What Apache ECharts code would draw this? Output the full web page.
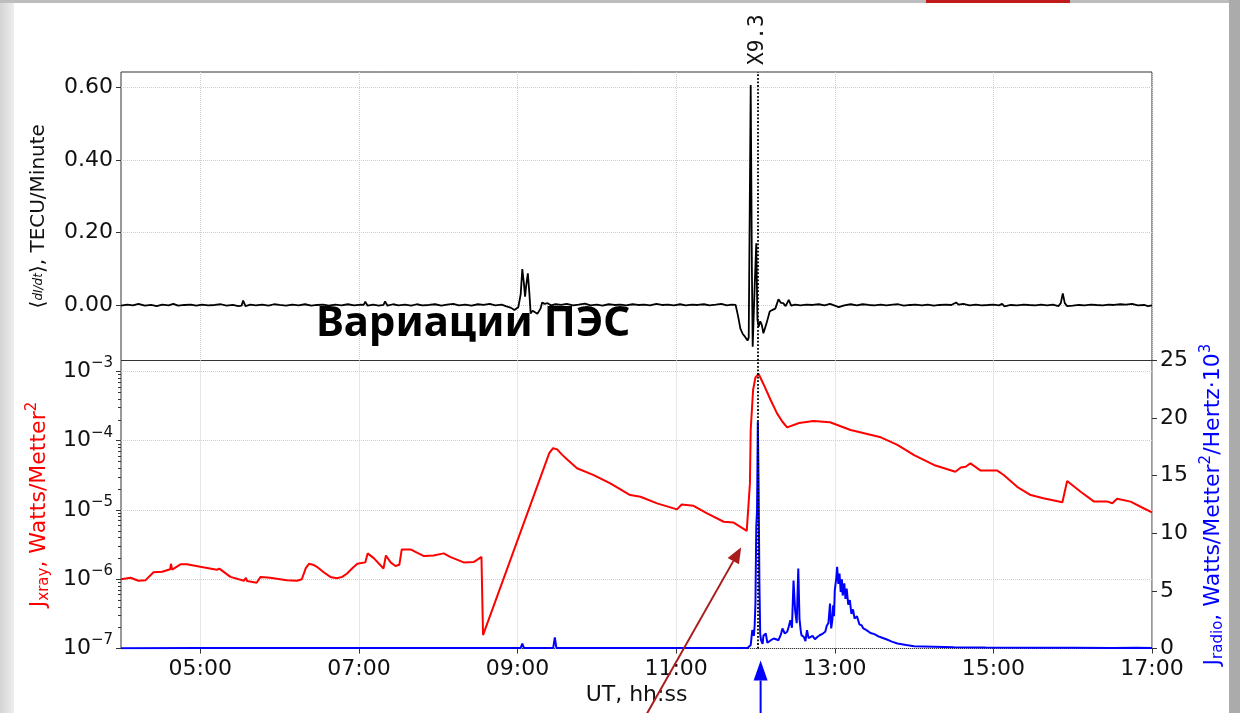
<!DOCTYPE html>
<html>
<head>
<meta charset="utf-8">
<script src="https://cdn.jsdelivr.net/npm/echarts@6.0.0/dist/echarts.min.js"></script>
<style>
  html, body { margin: 0; padding: 0; background: #fff; }
  #chart { width: 1240px; height: 713px; }
</style>
</head>
<body>
<div id="chart"></div>
<script>
// ---- axis ticks ----
const hourTicks = [5, 7, 9, 11, 13, 15, 17];
const tecuTicks = [0, 0.2, 0.4, 0.6];
const xrayTicks = [1e-7, 1e-6, 1e-5, 1e-4, 1e-3];
const xrayMinorTicks = [
  2e-7, 3e-7, 4e-7, 5e-7, 6e-7, 7e-7, 8e-7, 9e-7,
  2e-6, 3e-6, 4e-6, 5e-6, 6e-6, 7e-6, 8e-6, 9e-6,
  2e-5, 3e-5, 4e-5, 5e-5, 6e-5, 7e-5, 8e-5, 9e-5,
  2e-4, 3e-4, 4e-4, 5e-4, 6e-4, 7e-4, 8e-4, 9e-4
];

// ---- flare marker ----
const flareTime = 12.03;       // UT hours
const flareLabel = 'X9.3';
const captionText = 'Вариации ПЭС';

// ---- TEC variation rate, [UT hours, TECU/min] ----
const tecuRate = [
  [4.00,-0.002],[4.08,0.001],[4.15,-0.001],[4.22,0.003],[4.30,-0.002],[4.38,0.000],[4.45,-0.003],[4.52,0.001],
  [4.60,-0.001],[4.66,0.003],[4.72,-0.002],[4.80,0.000],[4.88,0.001],[4.95,-0.002],[5.02,0.001],[5.10,-0.001],
  [5.18,0.000],[5.26,0.002],[5.33,-0.002],[5.41,0.000],[5.48,-0.003],[5.52,-0.002],[5.54,0.012],[5.57,-0.003],
  [5.63,0.001],[5.70,-0.001],[5.78,0.001],[5.86,-0.002],[5.93,0.002],[6.00,0.000],[6.08,-0.002],[6.16,0.001],
  [6.24,-0.001],[6.32,0.002],[6.40,-0.002],[6.47,0.000],[6.55,0.001],[6.62,-0.002],[6.70,0.001],[6.78,-0.001],
  [6.86,0.002],[6.94,-0.001],[7.02,0.001],[7.06,0.000],[7.08,0.009],[7.11,-0.002],[7.18,0.001],[7.25,-0.002],
  [7.31,0.000],[7.33,0.010],[7.36,-0.002],[7.43,0.002],[7.50,-0.001],[7.58,0.001],[7.66,-0.002],[7.73,0.002],
  [7.80,-0.001],[7.88,0.000],[7.96,0.002],[8.04,-0.002],[8.11,0.001],[8.19,0.003],[8.26,-0.001],[8.34,0.001],
  [8.42,-0.002],[8.50,0.002],[8.57,0.000],[8.65,0.003],[8.72,-0.001],[8.80,0.001],[8.86,-0.004],[8.92,-0.008],
  [8.96,-0.014],[9.01,-0.006],[9.04,0.030],[9.06,0.099],[9.08,0.060],[9.095,0.023],[9.11,0.055],[9.13,0.087],
  [9.15,0.030],[9.165,-0.023],[9.19,-0.016],[9.22,-0.020],[9.25,-0.024],[9.27,-0.028],[9.29,-0.010],[9.31,0.007],
  [9.34,0.003],[9.38,0.005],[9.42,-0.001],[9.48,0.002],[9.55,0.000],[9.62,0.003],[9.70,-0.001],[9.77,0.001],
  [9.85,0.004],[9.92,-0.001],[10.00,0.001],[10.07,-0.002],[10.15,0.002],[10.22,0.000],[10.30,0.001],[10.37,-0.001],
  [10.45,0.002],[10.52,0.000],[10.60,0.001],[10.67,-0.001],[10.75,0.003],[10.82,0.000],[10.90,0.001],[10.97,-0.001],
  [11.05,0.002],[11.12,-0.001],[11.20,0.001],[11.27,0.000],[11.35,0.002],[11.42,-0.001],[11.50,0.001],[11.57,0.003],
  [11.64,-0.001],[11.70,0.001],[11.75,0.000],[11.78,-0.030],[11.81,-0.065],[11.84,-0.080],[11.87,-0.088],[11.90,-0.098],
  [11.915,-0.090],[11.94,0.606],[11.955,0.100],[11.965,-0.115],[11.99,0.050],[12.01,0.170],[12.025,-0.040],[12.04,-0.060],
  [12.06,-0.045],[12.08,-0.055],[12.10,-0.078],[12.14,-0.050],[12.18,-0.018],[12.21,-0.014],[12.25,-0.010],[12.29,0.016],
  [12.32,0.006],[12.35,0.005],[12.38,-0.003],[12.42,0.014],[12.45,-0.002],[12.50,0.001],[12.57,-0.001],[12.64,0.001],
  [12.72,0.000],[12.80,0.002],[12.87,-0.001],[12.94,0.003],[13.00,-0.002],[13.05,-0.006],[13.12,-0.001],[13.20,0.002],
  [13.28,-0.001],[13.35,0.002],[13.43,0.000],[13.50,-0.001],[13.58,0.001],[13.65,-0.001],[13.73,0.001],[13.80,0.002],
  [13.87,-0.002],[13.95,0.000],[14.02,0.001],[14.10,-0.001],[14.17,0.001],[14.25,-0.002],[14.32,0.000],[14.40,0.001],
  [14.47,0.000],[14.53,0.007],[14.56,0.001],[14.62,0.003],[14.70,-0.001],[14.78,0.001],[14.85,-0.001],[14.93,0.000],
  [15.00,0.001],[15.07,-0.001],[15.11,0.003],[15.14,-0.004],[15.22,0.000],[15.30,-0.001],[15.38,0.001],[15.45,0.000],
  [15.53,-0.001],[15.60,0.001],[15.68,-0.001],[15.75,0.001],[15.82,-0.003],[15.85,0.005],[15.875,0.032],[15.90,0.005],
  [15.93,-0.003],[16.00,-0.002],[16.08,0.000],[16.15,-0.001],[16.23,0.001],[16.30,0.000],[16.38,-0.001],[16.45,0.001],
  [16.52,0.000],[16.60,0.002],[16.67,0.001],[16.75,0.003],[16.82,-0.001],[16.90,0.000],[16.95,-0.003],[17.00,-0.001]
];

// ---- X-ray flux, [UT hours, W/m^2] ----
const xrayFlux = [
  [4.00,1.0e-6],[4.12,1.05e-6],[4.22,0.95e-6],[4.31,0.97e-6],[4.41,1.26e-6],[4.52,1.28e-6],[4.62,1.39e-6],
  [4.63,1.67e-6],[4.645,1.38e-6],[4.75,1.64e-6],[4.83,1.64e-6],[5.00,1.51e-6],[5.21,1.37e-6],[5.24,1.42e-6],
  [5.38,1.08e-6],[5.55,0.95e-6],[5.575,1.05e-6],[5.59,0.94e-6],[5.71,0.89e-6],[5.76,1.08e-6],[5.88,1.05e-6],
  [6.09,0.97e-6],[6.22,0.95e-6],[6.28,1.0e-6],[6.33,1.45e-6],[6.37,1.67e-6],[6.42,1.62e-6],[6.47,1.51e-6],
  [6.56,1.25e-6],[6.64,1.08e-6],[6.72,1.03e-6],[6.79,1.08e-6],[6.85,1.21e-6],[6.92,1.45e-6],[6.98,1.67e-6],
  [7.08,1.75e-6],[7.11,2.36e-6],[7.19,2.0e-6],[7.31,1.43e-6],[7.34,2.2e-6],[7.40,1.75e-6],[7.46,1.55e-6],
  [7.51,1.62e-6],[7.54,2.69e-6],[7.65,2.69e-6],[7.82,2.16e-6],[7.94,2.2e-6],[8.07,2.36e-6],[8.15,2.1e-6],
  [8.32,1.75e-6],[8.45,1.78e-6],[8.49,1.9e-6],[8.545,2.1e-6],[8.565,1.56e-7],
  [9.40,6.6e-5],[9.448,7.8e-5],[9.50,7.5e-5],[9.56,6.3e-5],[9.63,5.3e-5],[9.75,4.0e-5],[9.96,3.19e-5],
  [10.17,2.42e-5],[10.42,1.64e-5],[10.55,1.55e-5],[10.76,1.245e-5],[11.01,1.02e-5],[11.07,1.2e-5],[11.22,1.15e-5],
  [11.39,8.9e-6],[11.60,6.76e-6],[11.72,6.6e-6],[11.89,5.0e-6],[11.93,2.4e-5],[11.94,1.43e-4],[11.97,5.4e-4],
  [12.00,8.2e-4],[12.04,9.2e-4],[12.10,6.6e-4],[12.19,3.9e-4],[12.27,2.5e-4],[12.34,1.88e-4],[12.40,1.56e-4],
  [12.55,1.8e-4],[12.73,1.93e-4],[12.94,1.85e-4],[13.20,1.43e-4],[13.58,1.12e-4],[13.79,8.7e-5],[14.00,6.2e-5],
  [14.25,4.47e-5],[14.52,3.57e-5],[14.59,4.1e-5],[14.65,4.2e-5],[14.71,4.7e-5],[14.84,3.7e-5],[15.05,3.7e-5],
  [15.13,3.2e-5],[15.30,2.16e-5],[15.47,1.64e-5],[15.63,1.48e-5],[15.87,1.29e-5],[15.93,2.62e-5],[16.10,1.83e-5],
  [16.27,1.32e-5],[16.44,1.32e-5],[16.50,1.25e-5],[16.56,1.45e-5],[16.73,1.32e-5],[16.90,1.05e-5],[17.00,9.2e-6]
];

// ---- radio flux, [UT hours, W/m^2/Hz x 10^3] ----
const radioFlux = [
  [4.00,0.03],[5.00,0.05],[6.00,0.04],[7.00,0.05],[8.00,0.04],[8.90,0.05],[9.04,0.05],[9.06,0.43],[9.08,0.05],
  [9.13,0.05],[9.15,0.18],[9.17,0.05],[9.45,0.05],[9.47,0.96],[9.49,0.05],[10.50,0.04],[11.00,0.05],[11.50,0.05],
  [11.90,0.05],[11.94,0.30],[11.96,1.60],[11.98,1.10],[11.99,2.00],[12.00,4.00],[12.01,10.5],[12.02,12.0],
  [12.03,19.7],[12.04,13.9],[12.05,5.5],[12.06,1.2],[12.07,0.72],[12.09,0.40],[12.10,1.10],[12.13,1.30],
  [12.15,0.50],[12.17,0.43],[12.19,0.70],[12.21,0.60],[12.23,0.87],[12.26,0.80],[12.29,0.72],[12.32,1.20],
  [12.34,1.74],[12.37,1.30],[12.40,1.45],[12.42,1.90],[12.44,2.46],[12.46,1.80],[12.48,5.90],[12.50,3.30],
  [12.52,2.20],[12.54,6.95],[12.555,2.60],[12.57,1.60],[12.58,1.16],[12.61,1.00],[12.63,0.65],[12.65,1.59],
  [12.67,0.90],[12.69,0.87],[12.72,1.10],[12.75,0.80],[12.78,1.00],[12.81,1.15],[12.85,1.30],[12.88,1.45],
  [12.90,2.00],[12.92,2.20],[12.94,3.90],[12.955,1.74],[12.97,2.50],[12.98,3.76],[12.99,2.80],[13.00,5.00],
  [13.02,6.20],[13.03,7.10],[13.045,5.60],[13.06,6.50],[13.075,4.90],[13.09,6.00],[13.10,4.60],[13.12,5.65],
  [13.135,4.30],[13.15,5.20],[13.17,3.80],[13.19,4.20],[13.21,3.00],[13.23,3.40],[13.25,2.60],[13.28,2.80],
  [13.31,2.10],[13.34,2.00],[13.36,1.74],[13.40,1.60],[13.45,1.35],[13.50,1.25],[13.55,1.05],[13.58,0.98],
  [13.65,0.80],[13.72,0.60],[13.79,0.43],[13.90,0.30],[14.00,0.20],[14.25,0.15],[14.50,0.10],[14.90,0.08],
  [15.50,0.06],[16.00,0.06],[16.50,0.05],[16.80,0.07],[17.00,0.05]
];

const FONT = 'DejaVu Sans';
const INK = '#111';
const GRID_LINE = { show: true, lineStyle: { color: '#cfcfcf', type: 'dotted', width: 1 } };

function hourLabel(v) {
  const h = Math.round(v);
  return (h < 10 ? '0' : '') + h + ':00';
}
function powerLabel(v) {
  const e = Math.round(Math.log10(v));
  return '{m|10}{e|\u2212' + Math.abs(e) + '}';
}

const flareLine = {
  symbol: 'none',
  silent: true,
  label: { show: false },
  lineStyle: { color: '#000', type: 'dotted', width: 1.8 },
  data: [{ xAxis: flareTime }]
};

const chart = echarts.init(document.getElementById('chart'), null, { renderer: 'canvas' });

chart.setOption({
  animation: false,
  backgroundColor: '#fff',
  textStyle: { fontFamily: FONT },
  grid: [
    { left: 121, top: 72, width: 1031, height: 288.5, show: true, borderColor: '#333', borderWidth: 1, backgroundColor: 'transparent', outerBoundsMode: 'none' },
    { left: 121, top: 360.5, width: 1031, height: 288, show: true, borderColor: '#333', borderWidth: 1, backgroundColor: 'transparent', outerBoundsMode: 'none' }
  ],
  xAxis: [
    {
      gridIndex: 0, type: 'value', min: 4, max: 17,
      axisLine: { show: false },
      axisTick: { show: false, customValues: hourTicks },
      axisLabel: { show: false },
      splitLine: GRID_LINE
    },
    {
      gridIndex: 1, type: 'value', min: 4, max: 17,
      axisLine: { show: false },
      axisTick: { show: true, length: 5, customValues: hourTicks, lineStyle: { color: '#333' } },
      axisLabel: { customValues: hourTicks, formatter: hourLabel, fontSize: 22, color: INK, margin: 10, fontFamily: FONT },
      splitLine: GRID_LINE,
      name: 'UT, hh:ss', nameLocation: 'middle', nameGap: 36,
      nameTextStyle: { fontSize: 22, color: INK, fontFamily: FONT }
    }
  ],
  yAxis: [
    {
      gridIndex: 0, type: 'value', min: -0.153, max: 0.642,
      axisLine: { show: false },
      axisTick: { show: true, length: 5, customValues: tecuTicks, lineStyle: { color: '#333' } },
      axisLabel: { customValues: tecuTicks, formatter: v => v.toFixed(2), fontSize: 22, color: INK, margin: 8, fontFamily: FONT },
      splitLine: GRID_LINE,
      name: '{t|\u27E8}{f|dI/dt}{t|\u27E9, TECU/Minute}',
      nameLocation: 'middle', nameRotate: 90, nameGap: 72,
      nameTextStyle: {
        rich: {
          t: { fontSize: 20, color: INK, fontFamily: FONT },
          f: { fontSize: 12, color: INK, fontFamily: FONT, fontStyle: 'italic' }
        }
      }
    },
    {
      gridIndex: 1, type: 'log', logBase: 10, min: 9.99e-8, max: 1.44e-3,
      axisLine: { show: false },
      axisTick: { show: true, length: 5, customValues: xrayTicks, lineStyle: { color: '#333' } },
      axisLabel: {
        customValues: xrayTicks, formatter: powerLabel, margin: 8,
        rich: {
          m: { fontSize: 22, color: INK, fontFamily: FONT },
          e: { fontSize: 15, color: INK, fontFamily: FONT, padding: [0, 0, 16, 0] }
        }
      },
      splitLine: GRID_LINE,
      name: '{j|J}{s|xray}{t|, Watts/Metter}{p|2}',
      nameLocation: 'middle', nameRotate: 90, nameGap: 63,
      nameTextStyle: {
        rich: {
          j: { fontSize: 22, color: '#ff0000', fontFamily: FONT },
          s: { fontSize: 15, color: '#ff0000', fontFamily: FONT, padding: [10, 0, 0, 0] },
          t: { fontSize: 22, color: '#ff0000', fontFamily: FONT },
          p: { fontSize: 15, color: '#ff0000', fontFamily: FONT, padding: [0, 0, 14, 0] }
        }
      }
    },
    {
      gridIndex: 1, type: 'value', position: 'right', min: 0, max: 25, interval: 5,
      axisLine: { show: false },
      axisTick: { show: true, length: 5, lineStyle: { color: '#333' } },
      axisLabel: { fontSize: 22, color: INK, margin: 8, fontFamily: FONT },
      splitLine: { show: false },
      name: '{j|J}{s|radio}{t|, Watts/Metter}{p|2}{t|/Hertz\u00B710}{p|3}',
      nameLocation: 'middle', nameRotate: 90, nameGap: 44,
      nameTextStyle: {
        rich: {
          j: { fontSize: 22, color: '#0000ff', fontFamily: FONT },
          s: { fontSize: 15, color: '#0000ff', fontFamily: FONT, padding: [10, 0, 0, 0] },
          t: { fontSize: 22, color: '#0000ff', fontFamily: FONT },
          p: { fontSize: 15, color: '#0000ff', fontFamily: FONT, padding: [0, 0, 14, 0] }
        }
      }
    },
    {
      // minor decade ticks of the X-ray axis
      gridIndex: 1, type: 'log', logBase: 10, min: 9.99e-8, max: 1.44e-3, position: 'left',
      axisLine: { show: false },
      axisTick: { show: true, length: 3, customValues: xrayMinorTicks, lineStyle: { color: '#333' } },
      axisLabel: { show: false },
      splitLine: { show: false }
    }
  ],
  series: [
    {
      name: 'dI/dt', type: 'line', xAxisIndex: 0, yAxisIndex: 0,
      data: tecuRate, showSymbol: false, symbol: 'none',
      lineStyle: { color: '#000', width: 1.8 },
      markLine: flareLine, z: 3
    },
    {
      name: 'Jxray', type: 'line', xAxisIndex: 1, yAxisIndex: 1,
      data: xrayFlux, showSymbol: false, symbol: 'none',
      lineStyle: { color: '#ff0000', width: 2 }, z: 3
    },
    {
      name: 'Jradio', type: 'line', xAxisIndex: 1, yAxisIndex: 2,
      data: radioFlux, showSymbol: false, symbol: 'none',
      lineStyle: { color: '#0000ff', width: 2 },
      markLine: flareLine, z: 4
    }
  ]
});

// ---- annotations placed through the axes ----
const flareTop = chart.convertToPixel({ xAxisIndex: 0, yAxisIndex: 0 }, [flareTime, 0.642]);
const xrayOnset = chart.convertToPixel({ xAxisIndex: 1, yAxisIndex: 1 }, [11.82, 2.9e-6]);
const radioBase = chart.convertToPixel({ xAxisIndex: 1, yAxisIndex: 2 }, [12.065, 0]);

function arrow(tip, tail, color, headLen, headHalf) {
  const dx = tail[0] - tip[0], dy = tail[1] - tip[1];
  const len = Math.sqrt(dx * dx + dy * dy);
  const ux = dx / len, uy = dy / len;
  const bx = tip[0] + ux * headLen, by = tip[1] + uy * headLen;
  return [
    { type: 'line', shape: { x1: bx, y1: by, x2: tail[0], y2: tail[1] }, style: { stroke: color, lineWidth: 2 }, z: 20 },
    { type: 'polygon', shape: { points: [tip, [bx - uy * headHalf, by + ux * headHalf], [bx + uy * headHalf, by - ux * headHalf]] }, style: { fill: color }, z: 20 }
  ];
}

chart.setOption({
  graphic: [
    // slide frame
    { type: 'rect', shape: { x: 0, y: 0, width: 14, height: 713 }, style: { fill: new echarts.graphic.LinearGradient(0, 0, 1, 0, [{ offset: 0, color: '#d4d4d4' }, { offset: 1, color: '#eeeeee' }]) }, z: 1 },
    { type: 'rect', shape: { x: 0, y: 0, width: 1240, height: 3 }, style: { fill: '#bdbdbd' }, z: 1 },
    { type: 'rect', shape: { x: 926, y: 0, width: 144, height: 3 }, style: { fill: '#bf1b1b' }, z: 2 },
    { type: 'rect', shape: { x: 1229, y: 0, width: 11, height: 713 }, style: { fill: '#ababab' }, z: 1 },
    // flare class
    { type: 'text', x: flareTop[0], y: flareTop[1] - 7, rotation: Math.PI / 2,
      style: { text: flareLabel, font: '21px "DejaVu Sans Mono"', fill: INK, align: 'left', verticalAlign: 'middle' }, z: 10 },
    // caption
    { type: 'text', x: 316, y: 324,
      style: { text: captionText, font: 'bold 42px "Noto Sans"', fill: '#000', align: 'left', verticalAlign: 'middle' }, z: 10 },
    ...arrow([xrayOnset[0], xrayOnset[1]], [xrayOnset[0] - 98, xrayOnset[1] + 173], '#a81c1c', 16, 6.5),
    ...arrow([radioBase[0], radioBase[1] + 12], [radioBase[0], 720], '#0000ff', 20, 7)
  ]
});
</script>
</body>
</html>
